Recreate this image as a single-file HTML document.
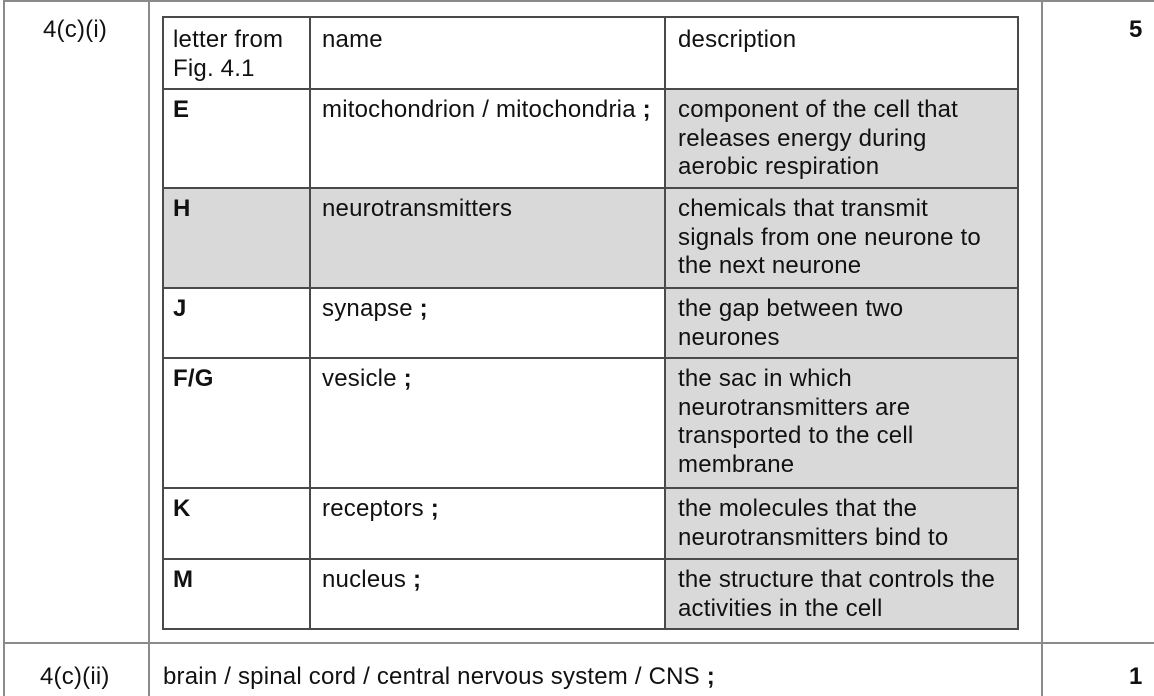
<!DOCTYPE html>
<html><head><meta charset="utf-8">
<style>
body{margin:0;width:1154px;height:696px;background:#fff;position:relative;overflow:hidden;font-family:"Liberation Sans",Arial,sans-serif;color:#111}
.l{position:absolute;background:#8a8a8a}
.il{position:absolute;background:#4a4a4a}
.t{position:absolute;font-size:24px;line-height:28.5px;letter-spacing:0.2px;white-space:nowrap}
.g{position:absolute;background:#d9d9d9}
b{font-weight:bold}
</style></head><body>
<div class="l" style="left:3px;top:0;width:1151px;height:2px"></div>
<div class="l" style="left:3px;top:0;width:2px;height:696px"></div>
<div class="l" style="left:148px;top:0;width:2px;height:696px"></div>
<div class="l" style="left:1041px;top:0;width:2px;height:696px"></div>
<div class="l" style="left:3px;top:642px;width:1151px;height:2px"></div>

<div class="t" style="left:43px;top:16px">4(c)(i)</div>
<div class="t" style="left:1129px;top:16px"><b>5</b></div>
<div class="t" style="left:40px;top:663px">4(c)(ii)</div>
<div class="t" style="left:163px;top:663px">brain / spinal cord / central nervous system / CNS <b>;</b></div>
<div class="t" style="left:1129px;top:663px"><b>1</b></div>

<div class="g" style="left:162px;top:187px;width:503px;height:100px"></div>
<div class="g" style="left:665px;top:88px;width:353px;height:541px"></div>

<div class="il" style="left:162px;top:16px;width:857px;height:1.5px"></div>
<div class="il" style="left:162px;top:628px;width:857px;height:1.5px"></div>
<div class="il" style="left:162px;top:16px;width:1.5px;height:614px"></div>
<div class="il" style="left:1017px;top:16px;width:1.5px;height:614px"></div>
<div class="il" style="left:309px;top:16px;width:1.5px;height:614px"></div>
<div class="il" style="left:664px;top:16px;width:1.5px;height:614px"></div>
<div class="il" style="left:162px;top:88px;width:857px;height:1.5px"></div>
<div class="il" style="left:162px;top:187px;width:857px;height:1.5px"></div>
<div class="il" style="left:162px;top:287px;width:857px;height:1.5px"></div>
<div class="il" style="left:162px;top:357px;width:857px;height:1.5px"></div>
<div class="il" style="left:162px;top:487px;width:857px;height:1.5px"></div>
<div class="il" style="left:162px;top:558px;width:857px;height:1.5px"></div>

<div class="t" style="left:173px;top:26px">letter from<br>Fig. 4.1</div>
<div class="t" style="left:322px;top:26px">name</div>
<div class="t" style="left:678px;top:26px">description</div>

<div class="t" style="left:173px;top:96px"><b>E</b></div>
<div class="t" style="left:322px;top:96px">mitochondrion / mitochondria <b>;</b></div>
<div class="t" style="left:678px;top:96px">component of the cell that<br>releases energy during<br>aerobic respiration</div>

<div class="t" style="left:173px;top:195px"><b>H</b></div>
<div class="t" style="left:322px;top:195px">neurotransmitters</div>
<div class="t" style="left:678px;top:195px">chemicals that transmit<br>signals from one neurone to<br>the next neurone</div>

<div class="t" style="left:173px;top:295px"><b>J</b></div>
<div class="t" style="left:322px;top:295px">synapse <b>;</b></div>
<div class="t" style="left:678px;top:295px">the gap between two<br>neurones</div>

<div class="t" style="left:173px;top:365px"><b>F/G</b></div>
<div class="t" style="left:322px;top:365px">vesicle <b>;</b></div>
<div class="t" style="left:678px;top:365px">the sac in which<br>neurotransmitters are<br>transported to the cell<br>membrane</div>

<div class="t" style="left:173px;top:495px"><b>K</b></div>
<div class="t" style="left:322px;top:495px">receptors <b>;</b></div>
<div class="t" style="left:678px;top:495px">the molecules that the<br>neurotransmitters bind to</div>

<div class="t" style="left:173px;top:566px"><b>M</b></div>
<div class="t" style="left:322px;top:566px">nucleus <b>;</b></div>
<div class="t" style="left:678px;top:566px">the structure that controls the<br>activities in the cell</div>
</body></html>
